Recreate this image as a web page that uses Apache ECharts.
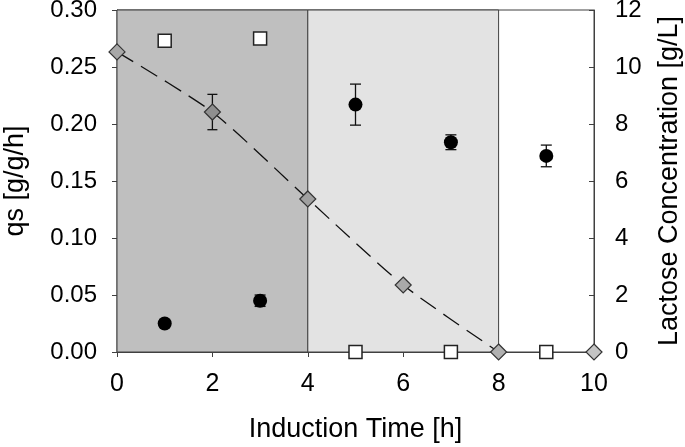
<!DOCTYPE html>
<html>
<head>
<meta charset="utf-8">
<script src="https://cdn.jsdelivr.net/npm/echarts@6/dist/echarts.min.js"></script>
<style>
html,body{margin:0;padding:0;background:#fff;}
#chart{width:685px;height:447px;}
</style>
</head>
<body>
<div id="chart"></div>
<script>
// ---- data ----
var xTicks = [0, 2, 4, 6, 8, 10];
var timeQs = [1, 3, 5, 7, 9];
var qsValues = [0.025, 0.045, 0.217, 0.184, 0.172];
var qsErr = [0.003, 0.005, 0.018, 0.0065, 0.0095];
var squareValues = [0.273, 0.275, 0, 0, 0];
var timeLactose = [0, 2, 4, 6, 8, 10];
var lactose = [10.53, 8.42, 5.37, 2.35, 0, 0];
var lactoseErr = [0, 0.62, 0, 0, 0, 0];
var phases = [[0, 4], [4, 8]];

// ---- styling helpers ----
var FONT = 'Liberation Sans';
var diamondColors = ['#a8a8a8', '#8f8f8f', '#a0a0a0', '#a9a9a9', '#b0b0b0', '#c4c4c4'];
var phaseColors = ['#bfbfbf', '#e3e3e3'];

function pairs(xs, ys) { return xs.map(function (x, i) { return [x, ys[i]]; }); }
function triples(xs, ys, es) { return xs.map(function (x, i) { return [x, ys[i], es[i]]; }); }

function errorRender(capHalf) {
  return function (params, api) {
    var x = api.value(0), y = api.value(1), e = api.value(2);
    if (!e) return null;
    var top = api.coord([x, y + e]);
    var bot = api.coord([x, y - e]);
    var st = { stroke: '#111', lineWidth: 1.3 };
    return {
      type: 'group',
      children: [
        { type: 'line', shape: { x1: top[0], y1: top[1], x2: bot[0], y2: bot[1] }, style: st },
        { type: 'line', shape: { x1: top[0] - capHalf, y1: top[1], x2: top[0] + capHalf, y2: top[1] }, style: st },
        { type: 'line', shape: { x1: bot[0] - capHalf, y1: bot[1], x2: bot[0] + capHalf, y2: bot[1] }, style: st }
      ]
    };
  };
}

var chart = echarts.init(document.getElementById('chart'), null, { renderer: 'canvas' });
var axisLineStyle = { color: '#404040', width: 1 };

chart.setOption({
  animation: false,
  backgroundColor: '#fff',
  textStyle: { fontFamily: FONT },
  grid: { left: 117, right: 91, top: 10, bottom: 95, containLabel: false, outerBoundsMode: 'none',
    show: true, borderColor: '#404040', borderWidth: 1, backgroundColor: 'transparent' },
  xAxis: {
    type: 'value', min: 0, max: 10, interval: 2,
    name: 'Induction Time [h]', nameLocation: 'middle', nameGap: 64,
    nameTextStyle: { fontSize: 27, color: '#000', fontFamily: FONT },
    axisLine: { show: true, lineStyle: axisLineStyle },
    axisTick: { show: true, length: 5, inside: false, lineStyle: axisLineStyle },
    axisLabel: { fontSize: 25, color: '#000', margin: 20, fontFamily: FONT },
    splitLine: { show: false }
  },
  yAxis: [
    {
      type: 'value', min: 0, max: 0.3, interval: 0.05, position: 'left',
      name: 'qs [g/g/h]', nameLocation: 'middle', nameGap: 88, nameRotate: 90,
      nameTextStyle: { fontSize: 27, color: '#000', fontFamily: FONT },
      axisLine: { show: true, lineStyle: axisLineStyle },
      axisTick: { show: true, length: 5, inside: false, lineStyle: axisLineStyle },
      axisLabel: { fontSize: 24, color: '#000', margin: 20, fontFamily: FONT,
        formatter: function (v) { return v.toFixed(2); } },
      splitLine: { show: false }
    },
    {
      type: 'value', min: 0, max: 12, interval: 2, position: 'right',
      name: 'Lactose Concentration [g/L]', nameLocation: 'middle', nameGap: 62, nameRotate: 90,
      nameTextStyle: { fontSize: 27, color: '#000', fontFamily: FONT },
      axisLine: { show: true, lineStyle: axisLineStyle },
      axisTick: { show: true, length: 5, inside: true, lineStyle: axisLineStyle },
      axisLabel: { fontSize: 24, color: '#000', margin: 21, fontFamily: FONT },
      splitLine: { show: false }
    }
  ],
  series: [
    {
      type: 'line', data: [], z: 0, silent: true,
      markArea: {
        silent: true,
        data: phases.map(function (p, i) {
          return [{ xAxis: p[0], itemStyle: { color: phaseColors[i], opacity: 1, borderColor: '#404040', borderWidth: 1 } }, { xAxis: p[1] }];
        })
      }
    },
    {
      name: 'lactose line', type: 'line', yAxisIndex: 1, z: 3,
      data: pairs(timeLactose.slice(0, 5), lactose.slice(0, 5)),
      smooth: 0.22, showSymbol: false, symbol: 'none',
      lineStyle: { color: '#111', width: 1.3, type: [19, 9], opacity: 1 }
    },
    {
      name: 'lactose err', type: 'custom', yAxisIndex: 1, z: 4,
      renderItem: errorRender(5),
      data: triples(timeLactose, lactose, lactoseErr)
    },
    {
      name: 'lactose', type: 'scatter', yAxisIndex: 1, z: 6,
      symbol: 'diamond', symbolSize: [16, 16],
      data: pairs(timeLactose, lactose).map(function (d, i) {
        return { value: d, itemStyle: { color: diamondColors[i] } };
      }),
      itemStyle: { borderColor: '#333', borderWidth: 1.2, opacity: 1 }
    },
    {
      name: 'qs err', type: 'custom', yAxisIndex: 0, z: 4,
      renderItem: errorRender(5.5),
      data: triples(timeQs, qsValues, qsErr)
    },
    {
      name: 'qs', type: 'scatter', yAxisIndex: 0, z: 7,
      symbol: 'circle', symbolSize: 14,
      data: pairs(timeQs, qsValues),
      itemStyle: { color: '#000', opacity: 1 }
    },
    {
      name: 'squares', type: 'scatter', yAxisIndex: 0, z: 7,
      symbol: 'rect', symbolSize: 13,
      data: pairs(timeQs, squareValues),
      itemStyle: { color: '#fff', borderColor: '#222', borderWidth: 1.5, opacity: 1 }
    }
  ]
});
</script>
</body>
</html>
